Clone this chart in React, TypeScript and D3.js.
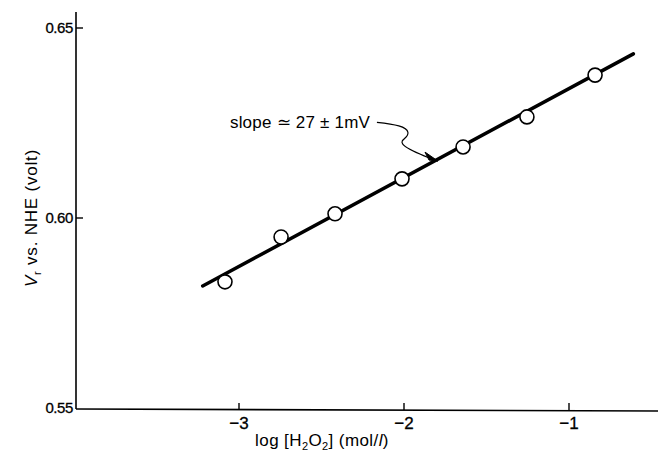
import React from "react";
import * as d3 from "d3";

const W = 658;
const H = 461;

// data
const logConc = [-3.085, -2.745, -2.418, -2.012, -1.642, -1.255, -0.842];
const potential = [0.5832, 0.595, 0.6011, 0.6103, 0.6187, 0.6266, 0.6376];
const fitX = [-3.22, -0.61];
const fitY = [0.5821, 0.6432];
const xTicks = [-3, -2, -1];
const yTicks = [0.55, 0.6, 0.65];
const slopeLabel = "slope \u2243 27 \u00b1 1mV";

const FONT = "'Liberation Sans', Arial, sans-serif";

export default function App() {
  const x = d3.scaleLinear().domain([-3, -1]).range([239, 569]);
  const y = d3.scaleLinear().domain([0.55, 0.65]).range([408, 28]);
  const axisX = x(-4) + 2;
  const axisY = y(0.55) + 1;

  const line = d3
    .line<number>()
    .x((_, i) => x(fitX[i]))
    .y((_, i) => y(fitY[i]));

  // annotation arrow, anchored on the fitted line in data units
  const tipX = x(-1.794);
  const tipY = y(0.6155) + 2;
  const txtX = x(-3.055);
  const txtY = y(0.6236);
  const sx = txtX + 147;
  const sy = txtY - 6;
  const wig = `M${sx},${sy} C${sx + 18},${sy + 2} ${sx + 30},${sy + 4} ${sx + 31},${sy + 10} C${sx + 32},${sy + 16} ${sx + 22},${sy + 17} ${sx + 26},${sy + 22} C${sx + 30},${sy + 27} ${tipX - 20},${tipY - 8} ${tipX - 6},${tipY - 2}`;

  return (
    <svg
      width={W}
      height={H}
      style={{ position: "absolute", left: 0, top: 0, background: "#fff" }}
      fontFamily={FONT}
    >
      <rect x={0} y={0} width={W} height={H} fill="#fff" />
      {/* axes */}
      <line x1={axisX} y1={12} x2={axisX} y2={axisY} stroke="#000" strokeWidth={1.6} />
      <line x1={axisX} y1={axisY} x2={W} y2={axisY + 2} stroke="#000" strokeWidth={1.6} />
      {xTicks.map((t) => (
        <g key={"xt" + t}>
          <line x1={x(t)} y1={axisY + 1} x2={x(t)} y2={axisY - 6} stroke="#000" strokeWidth={1.4} />
          <text x={x(t)} y={axisY + 20} textAnchor="middle" fontSize={17} stroke="#000" strokeWidth={0.3}>
            {"\u2212" + Math.abs(t)}
          </text>
        </g>
      ))}
      {yTicks.map((t) => (
        <g key={"yt" + t}>
          {t !== 0.55 && (
            <line x1={axisX} y1={y(t)} x2={axisX + 7} y2={y(t)} stroke="#000" strokeWidth={1.4} />
          )}
          <text x={axisX - 3} y={y(t) + 5} textAnchor="end" fontSize={15} letterSpacing={-0.4} stroke="#000" strokeWidth={0.3}>
            {t.toFixed(2)}
          </text>
        </g>
      ))}
      {/* axis titles */}
      <text x={322} y={446} textAnchor="middle" fontSize={17} letterSpacing={0.4}>
        log [H<tspan fontSize={11} dy={4}>2</tspan>
        <tspan dy={-4}>O</tspan>
        <tspan fontSize={11} dy={4}>2</tspan>
        <tspan dy={-4}>]  (mol/</tspan>
        <tspan fontStyle="italic">l</tspan>)
      </text>
      <text
        transform={`translate(37,${y(0.6)}) rotate(-90)`}
        textAnchor="middle"
        fontSize={17}
        letterSpacing={0.8}
      >
        <tspan fontStyle="italic">V</tspan>
        <tspan fontSize={11} dy={4}>r</tspan>
        <tspan dy={-4}> vs. NHE  (volt)</tspan>
      </text>
      {/* fitted line */}
      <path d={line(fitX) || ""} fill="none" stroke="#000" strokeWidth={3.5} strokeLinecap="round" />
      {/* points */}
      {logConc.map((v, i) => (
        <circle key={i} cx={x(v)} cy={y(potential[i])} r={7} fill="#fff" stroke="#000" strokeWidth={1.6} />
      ))}
      {/* annotation */}
      <text x={txtX} y={txtY} fontSize={17} textLength={140} lengthAdjust="spacing">
        {slopeLabel}
      </text>
      <path d={wig} fill="none" stroke="#000" strokeWidth={1.2} />
      <path
        d={`M${tipX},${tipY} L${tipX - 13},${tipY - 9} L${tipX - 9},${tipY - 1} Z`}
        fill="#000"
        stroke="#000"
        strokeWidth={1}
      />
    </svg>
  );
}
